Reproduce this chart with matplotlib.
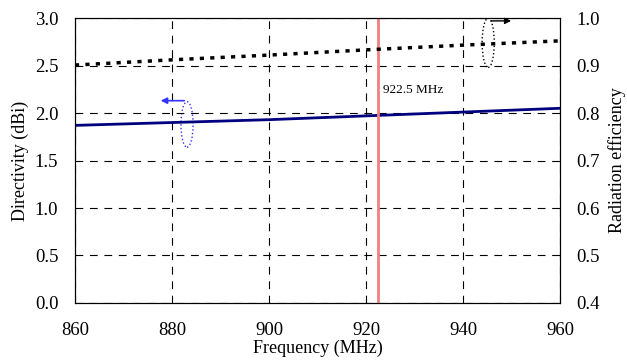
import matplotlib.pyplot as plt
from matplotlib.patches import Ellipse

plt.rcParams['font.family'] = ['Liberation Serif', 'DejaVu Serif']

freq = [860, 880, 900, 920, 940, 960]
directivity = [1.87, 1.90, 1.93, 1.97, 2.01, 2.05]
efficiency = [0.901, 0.912, 0.922, 0.933, 0.943, 0.952]
marker_freq = 922.5

fig = plt.figure(figsize=(6.27, 3.61), dpi=100)
ax = fig.add_axes([0.1196, 0.1607, 0.7735, 0.7893])
ax2 = ax.twinx()

ax.plot(freq, directivity, color='#000080', lw=2)
ax2.plot(freq, efficiency, color='black', lw=2.5, linestyle=(0, (1.2, 1.8)))
ax.axvline(marker_freq, color='#f08080', lw=2, zorder=5)

ax.set_xlim(860, 960)
ax.set_ylim(0, 3.0)
ax2.set_ylim(0.4, 1.0)
ax.set_xticks([860, 880, 900, 920, 940, 960])
ax.set_yticks([0.0, 0.5, 1.0, 1.5, 2.0, 2.5, 3.0])
ax2.set_yticks([0.4, 0.5, 0.6, 0.7, 0.8, 0.9, 1.0])
ax.yaxis.set_major_formatter(plt.FormatStrFormatter('%.1f'))
ax2.yaxis.set_major_formatter(plt.FormatStrFormatter('%.1f'))
ax.grid(True, color='black', linestyle=(0, (7, 6)), lw=0.8)
ax.tick_params(axis='x', length=0, labelsize=13.5, pad=14)
ax.tick_params(axis='y', length=0, labelsize=13.5, pad=12)
ax2.tick_params(length=0, labelsize=13.5, pad=12)
ax.set_xlabel('Frequency (MHz)', fontsize=13, labelpad=0)
ax.set_ylabel('Directivity (dBi)', fontsize=13, labelpad=4)
ax2.set_ylabel('Radiation efficiency', fontsize=13, labelpad=6)

ax.text(923.5, 2.24, '922.5 MHz', fontsize=9.5, va='center')

# left-axis indicator
ax.add_patch(Ellipse((883.1, 1.88), 2.5, 0.48, fill=False, ec='#3333ff',
                     linestyle=':', lw=1))
ax.annotate('', xy=(877.1, 2.13), xytext=(883.1, 2.13),
            arrowprops=dict(arrowstyle='-|>', color='#3333ff', lw=1.2, mutation_scale=9))
# right-axis indicator
ax.add_patch(Ellipse((945.2, 2.74), 2.5, 0.52, fill=False, ec='black',
                     linestyle=':', lw=1))
ax.annotate('', xy=(950.5, 2.97), xytext=(945.2, 2.97),
            arrowprops=dict(arrowstyle='-|>', color='black', lw=1, mutation_scale=9))

fig.savefig('out.png', dpi=100)
